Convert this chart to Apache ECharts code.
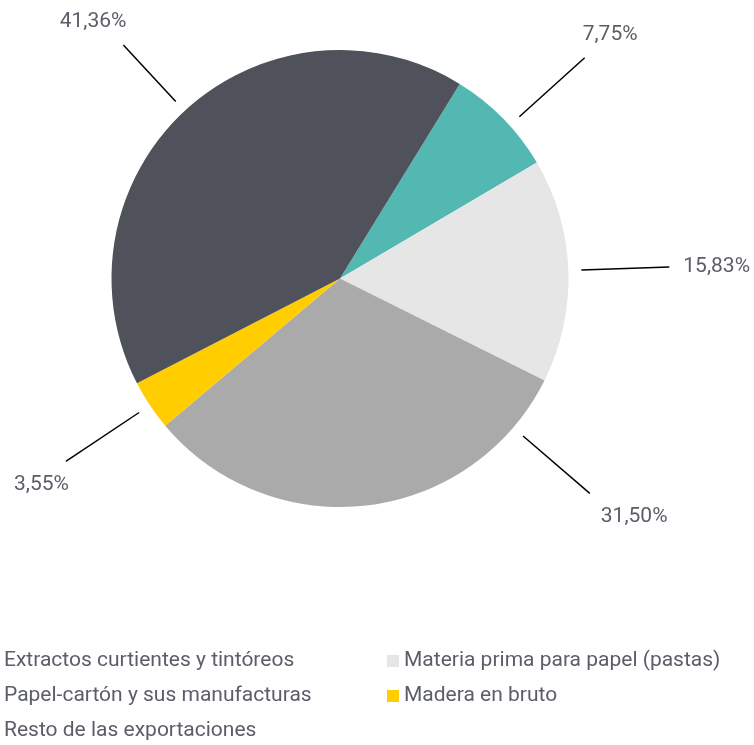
<!DOCTYPE html>
<html>
<head>
<meta charset="utf-8">
<title>Exportaciones</title>
<script src="https://cdn.jsdelivr.net/npm/echarts@6/dist/echarts.min.js"></script>
<style>
  html, body { margin: 0; padding: 0; background: #fff; }
  #chart { width: 754px; height: 745px; }
</style>
</head>
<body>
<div id="chart"></div>
<script>
  // categories, in drawing order (clockwise from the teal slice)
  var categories = [
    'Extractos curtientes y tintóreos',
    'Materia prima para papel (pastas)',
    'Papel-cartón y sus manufacturas',
    'Madera en bruto',
    'Resto de las exportaciones'
  ]
  var shares = [7.75, 15.83, 31.50, 3.55, 41.36]
  var colors = ['#52b8b1', '#e6e6e6', '#aaaaaa', '#ffcd00', '#4f515b']

  var legendLeft = [categories[0], categories[2], categories[4]]
  var legendRight = [categories[1], categories[3]]

  var center = [340, 278.5]
  var radius = 228.5
  var startAngle = 58.4
  var textColor = '#5b5e69'

  var chart = echarts.init(document.getElementById('chart'))

  var total = shares.reduce(function (a, b) { return a + b }, 0)

  // label lines that are not on the slice middle, or shorter than the rest
  var labelAngleShift = { 0: -2.4, 2: 42.5 }
  var labelLineEnd = { 4: 90 }

  // direction of each slice's label line, from the pie's own angles
  function sliceDir (idx) {
    var before = 0
    for (var i = 0; i < idx; i++) before += shares[i]
    var deg = startAngle - 360 * (before + shares[idx] / 2) / total + (labelAngleShift[idx] || 0)
    var mid = deg * Math.PI / 180
    return [Math.cos(mid), -Math.sin(mid)]
  }

  var pieData = categories.map(function (name, i) {
    return { name: name, value: shares[i], itemStyle: { color: colors[i] } }
  })

  var legendBase = {
    orient: 'vertical',
    top: 650,
    padding: 0,
    itemWidth: 12,
    itemHeight: 12,
    itemGap: 13,
    icon: 'rect',
    selectedMode: false,
    textStyle: { fontFamily: 'Roboto', fontSize: 21, color: textColor, lineHeight: 22 }
  }

  chart.setOption({
    animation: false,
    color: colors,
    legend: [
      Object.assign({}, legendBase, { left: -13, data: legendLeft }),
      Object.assign({}, legendBase, { left: 387, data: legendRight })
    ],
    series: [{
      type: 'pie',
      center: center,
      radius: radius,
      startAngle: startAngle,
      clockwise: true,
      avoidLabelOverlap: false,
      data: pieData,
      label: {
        show: true,
        position: 'outside',
        fontFamily: 'Roboto',
        fontSize: 21,
        color: textColor,
        formatter: function (p) {
          return p.value.toFixed(2).replace('.', ',') + '%'
        }
      },
      labelLine: {
        show: true,
        length: 90,
        length2: 0,
        lineStyle: { color: '#000', width: 1.5 }
      },
      // straight radial line with a gap to the pie, label past its end
      labelLayout: function (params) {
        var d = sliceDir(params.dataIndex)
        var r0 = radius + 13
        var r1 = radius + (labelLineEnd[params.dataIndex] || 101)
        var start = [center[0] + d[0] * r0, center[1] + d[1] * r0]
        var end = [center[0] + d[0] * r1, center[1] + d[1] * r1]
        var out
        if (Math.abs(d[1]) < 0.3) {
          out = {
            x: end[0] + (d[0] > 0 ? 14 : -14),
            y: end[1],
            align: d[0] > 0 ? 'left' : 'right',
            verticalAlign: 'middle'
          }
        } else {
          out = {
            x: end[0] + (d[0] > 0 ? (d[1] > 0 ? 11 : -2) : 3),
            y: end[1] + (d[1] > 0 ? 13 : -13),
            align: d[0] > 0 ? 'left' : 'right',
            verticalAlign: d[1] > 0 ? 'top' : 'bottom'
          }
        }
        out.labelLinePoints = [start, end, end]
        return out
      },
      emphasis: { disabled: true }
    }]
  })
</script>
</body>
</html>
